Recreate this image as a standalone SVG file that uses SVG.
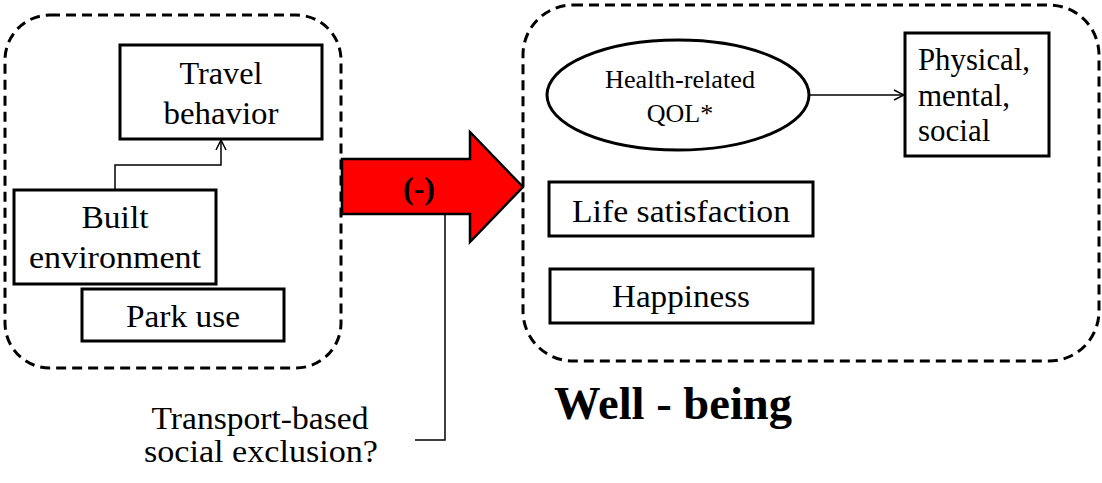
<svg xmlns="http://www.w3.org/2000/svg" width="1102" height="483" viewBox="0 0 1102 483">
  <defs>
    <marker id="open-arrow" viewBox="0 0 12 12" refX="11" refY="6" markerWidth="12" markerHeight="12" markerUnits="userSpaceOnUse" orient="auto">
      <path d="M1,1 L11,6 L1,11" fill="none" stroke="#000" stroke-width="1.5"/>
    </marker>
    <style>
      .group { fill: none; stroke: #000; stroke-width: 3; stroke-dasharray: 10 6; }
      .box { fill: #fff; stroke: #000; stroke-width: 3; }
      .link { fill: none; stroke: #000; stroke-width: 1.5; }
      text { font-family: 'Liberation Serif', 'Times New Roman', serif; fill: #000; }
      .lbl { font-size: 32px; text-anchor: middle; }
      .lbl-sm { font-size: 26px; text-anchor: middle; }
      .lbl-l { font-size: 31px; }
      .bold { font-weight: bold; text-anchor: middle; }
    </style>
  </defs>
  <rect width="1102" height="483" fill="#fff"/>

  <!-- dashed groupings -->
  <g id="group-left">
    <rect class="group" x="5" y="15" width="336" height="353" rx="45" ry="45"/>
  </g>
  <g id="group-wellbeing">
    <rect class="group" x="523" y="5" width="576" height="356" rx="50" ry="50"/>
  </g>

  <!-- connectors -->
  <g id="connectors">
    <path class="link" d="M115,190 V165 H221 V140" marker-end="url(#open-arrow)"/>
    <path class="link" d="M809,95 H904" marker-end="url(#open-arrow)"/>
    <path class="link" d="M445,214 V440 H415"/>
  </g>

  <!-- left-side nodes -->
  <g id="travel-behavior">
    <rect class="box" x="120" y="45" width="202" height="94"/>
    <text class="lbl" x="221" y="84" textLength="83" lengthAdjust="spacingAndGlyphs">Travel</text>
    <text class="lbl" x="221" y="124" textLength="115" lengthAdjust="spacingAndGlyphs">behavior</text>
  </g>
  <g id="built-environment">
    <rect class="box" x="14" y="190" width="202" height="94"/>
    <text class="lbl" x="115" y="228" textLength="67" lengthAdjust="spacingAndGlyphs">Built</text>
    <text class="lbl" x="115" y="268" textLength="172" lengthAdjust="spacingAndGlyphs">environment</text>
  </g>
  <g id="park-use">
    <rect class="box" x="82" y="289" width="202" height="52"/>
    <text class="lbl" x="183" y="327" textLength="114" lengthAdjust="spacingAndGlyphs">Park use</text>
  </g>

  <!-- effect arrow -->
  <g id="effect-arrow">
    <path d="M342,159 H470 V132 L523,187 L470,242 V214 H342 Z" fill="#ff0000" stroke="#000" stroke-width="2.5" stroke-linejoin="miter"/>
    <text class="bold" x="419" y="199" font-size="32">(-)</text>
  </g>

  <!-- well-being nodes -->
  <g id="health-qol">
    <ellipse cx="678" cy="95" rx="131" ry="55" fill="#fff" stroke="#000" stroke-width="3"/>
    <text class="lbl-sm" x="680" y="88" textLength="150" lengthAdjust="spacingAndGlyphs">Health-related</text>
    <text class="lbl-sm" x="680" y="122">QOL*</text>
  </g>
  <g id="qol-domains">
    <rect class="box" x="905" y="33" width="144" height="123"/>
    <text class="lbl-l" x="918" y="70" textLength="112" lengthAdjust="spacingAndGlyphs">Physical,</text>
    <text class="lbl-l" x="918" y="106">mental,</text>
    <text class="lbl-l" x="918" y="141">social</text>
  </g>
  <g id="life-satisfaction">
    <rect class="box" x="549" y="182" width="264" height="54"/>
    <text class="lbl" x="681" y="222" textLength="218" lengthAdjust="spacingAndGlyphs">Life satisfaction</text>
  </g>
  <g id="happiness">
    <rect class="box" x="550" y="269" width="263" height="54"/>
    <text class="lbl" x="681" y="307" textLength="138" lengthAdjust="spacingAndGlyphs">Happiness</text>
  </g>

  <!-- captions -->
  <g id="exclusion-note">
    <text class="lbl" x="260" y="429" font-size="31" textLength="217" lengthAdjust="spacingAndGlyphs">Transport-based</text>
    <text class="lbl" x="261" y="462" font-size="31" textLength="234" lengthAdjust="spacingAndGlyphs">social exclusion?</text>
  </g>
  <g id="wellbeing-title">
    <text class="bold" x="673" y="419" font-size="46" textLength="238" lengthAdjust="spacingAndGlyphs">Well - being</text>
  </g>
</svg>
